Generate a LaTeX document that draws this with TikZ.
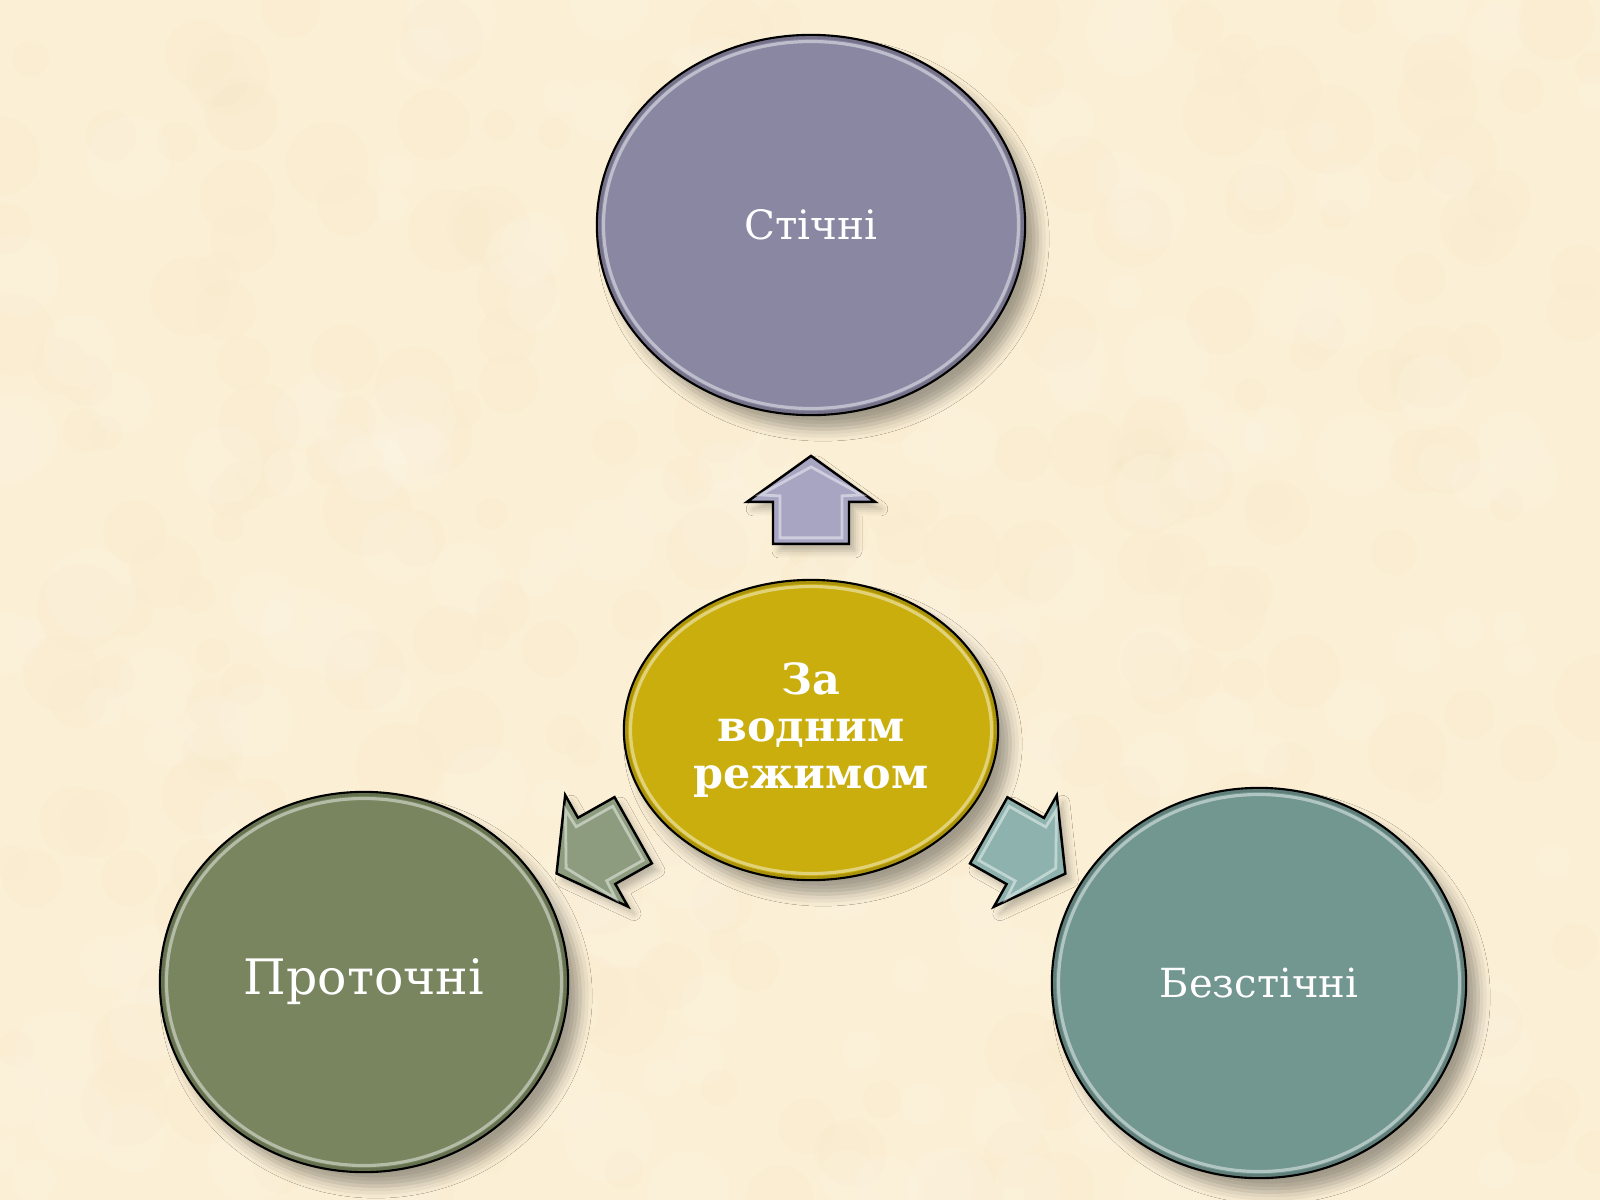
\documentclass[tikz,border=0pt]{standalone}
\usepackage{fontspec}
\setmainfont{DejaVu Serif}
\usetikzlibrary{shapes.geometric,shadows.blur,calc}
\definecolor{bgbase}{HTML}{FBEFD5}
\definecolor{bgspot}{HTML}{EEDCB0}
\definecolor{bglight}{HTML}{FFF8EA}
\definecolor{topfill}{HTML}{8A87A3}
\definecolor{midfill}{HTML}{C9AE0D}
\definecolor{leftfill}{HTML}{78855F}
\definecolor{rightfill}{HTML}{729690}
\definecolor{uparr}{HTML}{A7A5C2}
\definecolor{leftarr}{HTML}{8D9C7E}
\definecolor{rightarr}{HTML}{8EB2AD}
\tikzset{
  bubble/.style 2 args={ellipse, inner sep=0pt, draw=black, line width=0.6pt,
    minimum width=#1*0.02cm, minimum height=#2*0.02cm, text=white, align=center,
    blur shadow={shadow xshift=0.12cm, shadow yshift=-0.14cm, shadow blur radius=0.12cm, shadow opacity=35},
    path picture={
      \draw[black, opacity=0.15, line width=2.2pt] (path picture bounding box.center) ellipse[x radius=#1*0.01cm, y radius=#2*0.01cm];
      \draw[white, opacity=0.45, line width=0.9pt] (path picture bounding box.center) ellipse[x radius=#1*0.01cm-0.065cm, y radius=#2*0.01cm-0.065cm];
    }},
  arrowbody/.style={draw=black, line width=0.7pt, line join=miter,
    blur shadow={shadow xshift=0.06cm, shadow yshift=-0.07cm, shadow blur radius=0.07cm, shadow opacity=25}},
  arrowbevel/.style={draw=white, opacity=0.45, line width=0.8pt, line join=miter}
}
\newcommand\blockarrow[4]{%
  \path let \p1=($(#2.center)-(#1.center)$), \n1={atan2(\y1,\x1)} in \pgfextra{\xdef\arrowang{\n1}};
  \begin{scope}[shift={($(#1.center)!#3!(#2.center)$)}, rotate=\arrowang]
    \draw[arrowbody, fill=#4] (0,-38) -- (42,-38) -- (42,-64) -- (88,0) -- (42,64) -- (42,38) -- (0,38) -- cycle;
    \draw[arrowbevel] (6,-31) -- (48,-31) -- (49,-51) -- (77,0) -- (49,51) -- (48,31) -- (6,31) -- cycle;
  \end{scope}
}
\begin{document}
\begin{tikzpicture}[x=0.01cm, y=-0.01cm]
\useasboundingbox (0,0) rectangle (1600,1200);
\fill[bgbase] (0,0) rectangle (1600,1200);
\pgfmathsetseed{7}
\foreach \i in {1,...,260}{
  \pgfmathsetmacro\px{rnd*1600}
  \pgfmathsetmacro\py{rnd*1200}
  \pgfmathsetmacro\pr{15+rnd*30}
  \fill[bgspot, opacity=0.06] (\px,\py) circle[radius=\pr];
}
\foreach \i in {1,...,200}{
  \pgfmathsetmacro\px{rnd*1600}
  \pgfmathsetmacro\py{rnd*1200}
  \pgfmathsetmacro\pr{15+rnd*30}
  \fill[bglight, opacity=0.18] (\px,\py) circle[radius=\pr];
}
\node[bubble={214}{190}, fill=topfill, font=\fontsize{11.5}{13}\selectfont] (top) at (811,225) {Стічні};
\node[bubble={187}{150}, fill=midfill, font=\fontsize{12.2}{13.4}\selectfont\bfseries] (mid) at (811,730) {За\\водним\\режимом};
\node[bubble={204}{190}, fill=leftfill, font=\fontsize{13.9}{16}\selectfont] (left) at (364,982) {Проточні};
\node[bubble={207}{195}, fill=rightfill, font=\fontsize{11.4}{13}\selectfont] (right) at (1259,983) {Безстічні};
\blockarrow{mid}{top}{1.86cm}{uparr}
\blockarrow{mid}{left}{2.04cm}{leftarr}
\blockarrow{mid}{right}{2.04cm}{rightarr}
\end{tikzpicture}
\end{document}
